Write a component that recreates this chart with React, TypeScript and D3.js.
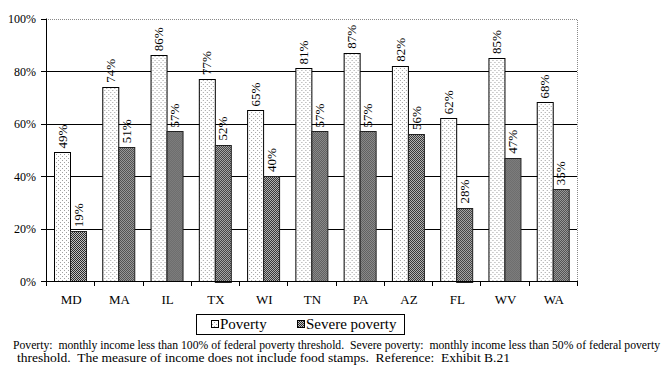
import React, { useEffect, useRef } from "react";
import * as d3 from "d3";

const states = ["MD", "MA", "IL", "TX", "WI", "TN", "PA", "AZ", "FL", "WV", "WA"];
const poverty = [49, 74, 86, 77, 65, 81, 87, 82, 62, 85, 68];
const severePoverty = [19, 51, 57, 52, 40, 57, 57, 56, 28, 47, 35];
const seriesNames = ["Poverty", "Severe poverty"];
const yTicks = [0, 20, 40, 60, 80, 100];
const footnote = [
  "Poverty:  monthly income less than 100% of federal poverty threshold.  Severe poverty:  monthly income less than 50% of federal poverty",
  "threshold.  The measure of income does not include food stamps.  Reference:  Exhibit B.21",
];

const W = 669;
const H = 365;
const margin = { top: 18.5, right: 92, bottom: 84, left: 46 };
const FONT = "'Liberation Serif', 'Times New Roman', serif";

const App = () => {
  const svgRef = useRef<SVGSVGElement>(null);

  useEffect(() => {
    const svg = d3.select(svgRef.current);
    svg.selectAll("*").remove();

    const x0 = margin.left;
    const x1 = W - margin.right;
    const y0 = H - margin.bottom;

    const defs = svg.append("defs");
    // light dotted fill
    const pDots = defs
      .append("pattern")
      .attr("id", "pov")
      .attr("width", 4)
      .attr("height", 4)
      .attr("patternUnits", "userSpaceOnUse");
    pDots.append("rect").attr("width", 4).attr("height", 4).attr("fill", "#fff");
    pDots.append("rect").attr("x", 0).attr("y", 0).attr("width", 1).attr("height", 1).attr("fill", "#a0a0a0");
    pDots.append("rect").attr("x", 2).attr("y", 2).attr("width", 1).attr("height", 1).attr("fill", "#a0a0a0");
    // checker fill
    const pCheck = defs
      .append("pattern")
      .attr("id", "sev")
      .attr("width", 2)
      .attr("height", 2)
      .attr("patternUnits", "userSpaceOnUse");
    pCheck.append("rect").attr("width", 2).attr("height", 2).attr("fill", "#c0c0c0");
    pCheck.append("rect").attr("x", 0).attr("y", 0).attr("width", 1).attr("height", 1).attr("fill", "#2a2a2a");
    pCheck.append("rect").attr("x", 1).attr("y", 1).attr("width", 1).attr("height", 1).attr("fill", "#2a2a2a");

    const x = d3.scaleBand().domain(states).range([x0, x1]).padding(0);
    const xs = d3
      .scaleBand()
      .domain(seriesNames)
      .range([0, x.bandwidth()])
      .paddingInner(0)
      .paddingOuter(0.51);
    const y = d3.scaleLinear().domain([0, 100]).range([y0, margin.top]);

    const g = svg.append("g");

    // plot border (dotted top/right)
    g.append("path")
      .attr("d", `M${x0},${Math.round(y(100)) + 0.5}H${x1 + 0.5}V${y0}`)
      .attr("fill", "none")
      .attr("stroke", "#888")
      .attr("stroke-dasharray", "1,1");

    // gridlines
    g.selectAll("line.grid")
      .data(yTicks.filter((t) => t > 0 && t < 100))
      .join("line")
      .attr("class", "grid")
      .attr("x1", x0)
      .attr("x2", x1)
      .attr("y1", (d) => Math.round(y(d)) + 0.5)
      .attr("y2", (d) => Math.round(y(d)) + 0.5)
      .attr("stroke", "#000");

    const data = states.map((s, i) => ({
      state: s,
      values: [
        { key: seriesNames[0], v: poverty[i] },
        { key: seriesNames[1], v: severePoverty[i] },
      ],
    }));

    const groups = g
      .selectAll("g.state")
      .data(data)
      .join("g")
      .attr("class", "state")
      .attr("transform", (d) => `translate(${x(d.state)},0)`);

    groups
      .selectAll("rect")
      .data((d) => d.values)
      .join("rect")
      .attr("x", (d) => Math.round(xs(d.key)!) + 0.5)
      .attr("y", (d) => Math.round(y(d.v)) + 0.5)
      .attr("width", Math.round(xs.bandwidth()))
      .attr("height", (d) => Math.round(y0 - y(d.v)))
      .attr("fill", (d) => (d.key === seriesNames[0] ? "url(#pov)" : "url(#sev)"))
      .attr("stroke", (d) => (d.key === seriesNames[0] ? "#000" : "#222"));

    groups
      .selectAll("text")
      .data((d) => d.values)
      .join("text")
      .attr("transform", (d) => {
        const cx = xs(d.key)! + xs.bandwidth() / 2 + 4.5;
        const ty = y(d.v) - 4;
        return `translate(${cx},${ty}) rotate(-90)`;
      })
      .attr("font-family", FONT)
      .attr("font-size", 13)
      .attr("fill", "#000")
      .text((d) => `${d.v}%`);

    // y axis
    g.append("line")
      .attr("x1", x0 + 0.5)
      .attr("x2", x0 + 0.5)
      .attr("y1", margin.top)
      .attr("y2", y0 + 5)
      .attr("stroke", "#000");
    g.selectAll("line.ytick")
      .data(yTicks)
      .join("line")
      .attr("class", "ytick")
      .attr("x1", x0 - 5)
      .attr("x2", x0)
      .attr("y1", (d) => Math.round(y(d)) + 0.5)
      .attr("y2", (d) => Math.round(y(d)) + 0.5)
      .attr("stroke", "#000");
    g.selectAll("text.ylab")
      .data(yTicks)
      .join("text")
      .attr("class", "ylab")
      .attr("x", 36)
      .attr("y", (d) => y(d) + 4.5)
      .attr("text-anchor", "end")
      .attr("font-family", FONT)
      .attr("font-size", 12)
      .text((d) => `${d}%`);

    // x axis
    g.append("line")
      .attr("x1", x0)
      .attr("x2", x1 + 1)
      .attr("y1", y0 + 0.5)
      .attr("y2", y0 + 0.5)
      .attr("stroke", "#000");
    g.selectAll("line.xtick")
      .data([...states.map((s) => x(s)!), x1])
      .join("line")
      .attr("class", "xtick")
      .attr("x1", (d) => Math.round(d) + 0.5)
      .attr("x2", (d) => Math.round(d) + 0.5)
      .attr("y1", y0)
      .attr("y2", y0 + 5)
      .attr("stroke", "#000");
    g.selectAll("text.xlab")
      .data(states)
      .join("text")
      .attr("class", "xlab")
      .attr("x", (d) => x(d)! + x.bandwidth() / 2 + 1)
      .attr("y", 304)
      .attr("text-anchor", "middle")
      .attr("font-family", FONT)
      .attr("font-size", 13)
      .text((d) => d);

    // legend
    const lg = svg.append("g");
    lg.append("rect")
      .attr("x", 196.5)
      .attr("y", 314.5)
      .attr("width", 208)
      .attr("height", 20)
      .attr("fill", "#fff")
      .attr("stroke", "#000");
    const legendX = [211, 297];
    seriesNames.forEach((name, i) => {
      lg.append("rect")
        .attr("x", legendX[i] + 0.5)
        .attr("y", 320.5)
        .attr("width", 7)
        .attr("height", 7)
        .attr("fill", i === 0 ? "url(#pov)" : "url(#sev)")
        .attr("stroke", "#000");
      lg.append("text")
        .attr("x", legendX[i] + 9)
        .attr("y", 329)
        .attr("font-family", FONT)
        .attr("font-size", 15)
        .text(name);
    });

    // footnote
    const lens = [647, 493];
    const xs0 = [13, 17];
    const ys0 = [349, 362];
    footnote.forEach((line, i) => {
      svg
        .append("text")
        .attr("x", xs0[i])
        .attr("y", ys0[i])
        .attr("font-family", FONT)
        .attr("font-size", 11.5)
        .attr("xml:space", "preserve")
        .attr("textLength", lens[i])
        .attr("lengthAdjust", "spacingAndGlyphs")
        .style("white-space", "pre")
        .text(line);
    });
  }, []);

  return (
    <svg
      ref={svgRef}
      width={W}
      height={H}
      style={{ position: "absolute", left: 0, top: 0, background: "#fff" }}
    ></svg>
  );
};

export default App;
